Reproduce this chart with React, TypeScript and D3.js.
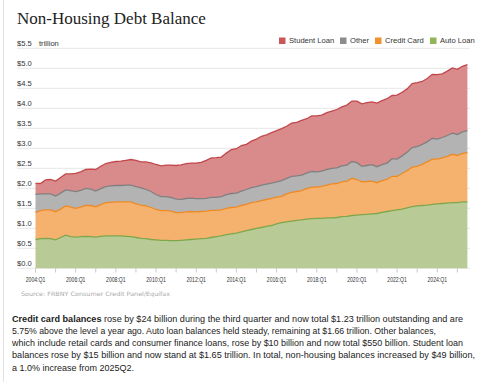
import React from "react";
import * as d3 from "d3";

const startYear = 2004;
const autoLoan = [
  0.72, 0.74, 0.75, 0.74, 0.71, 0.77, 0.83, 0.79, 0.78, 0.79, 0.80, 0.79,
  0.78, 0.80, 0.81, 0.81, 0.81, 0.81, 0.80, 0.79, 0.77, 0.75, 0.74, 0.72,
  0.71, 0.70, 0.70, 0.69, 0.69, 0.70, 0.71, 0.72, 0.73, 0.74, 0.75, 0.77,
  0.79, 0.81, 0.84, 0.86, 0.88, 0.91, 0.94, 0.97, 1.00, 1.02, 1.05, 1.07,
  1.11, 1.14, 1.16, 1.18, 1.20, 1.21, 1.23, 1.24, 1.25, 1.25, 1.26, 1.26,
  1.27, 1.29, 1.30, 1.32, 1.33, 1.34, 1.35, 1.36, 1.37, 1.40, 1.42, 1.44,
  1.46, 1.48, 1.51, 1.54, 1.56, 1.57, 1.58, 1.60, 1.61, 1.62, 1.63, 1.64,
  1.64, 1.66, 1.66,
];
const creditCard = [
  0.68, 0.70, 0.71, 0.72, 0.705, 0.71, 0.73, 0.74, 0.72, 0.74, 0.77, 0.78,
  0.76, 0.79, 0.83, 0.84, 0.85, 0.85, 0.86, 0.87, 0.84, 0.83, 0.82, 0.80,
  0.76, 0.74, 0.74, 0.74, 0.70, 0.69, 0.70, 0.70, 0.68, 0.68, 0.68, 0.68,
  0.66, 0.65, 0.66, 0.66, 0.65, 0.66, 0.66, 0.67, 0.66, 0.67, 0.67, 0.68,
  0.67, 0.66, 0.70, 0.72, 0.72, 0.73, 0.76, 0.79, 0.78, 0.80, 0.82, 0.85,
  0.85, 0.87, 0.88, 0.93, 0.89, 0.82, 0.82, 0.82, 0.77, 0.79, 0.80, 0.86,
  0.84, 0.89, 0.93, 0.99, 0.99, 1.03, 1.08, 1.13, 1.12, 1.14, 1.17, 1.21,
  1.18, 1.21, 1.23,
];
const otherDebt = [
  0.45, 0.42, 0.40, 0.40, 0.39, 0.40, 0.40, 0.41, 0.415, 0.42, 0.43, 0.41,
  0.39, 0.40, 0.40, 0.41, 0.41, 0.41, 0.42, 0.42, 0.43, 0.43, 0.41, 0.40,
  0.375, 0.35, 0.35, 0.34, 0.34, 0.335, 0.335, 0.335, 0.33, 0.32, 0.32, 0.325,
  0.325, 0.33, 0.34, 0.35, 0.35, 0.36, 0.37, 0.375, 0.38, 0.39, 0.385, 0.38,
  0.38, 0.39, 0.39, 0.40, 0.39, 0.39, 0.39, 0.39, 0.38, 0.38, 0.39, 0.39,
  0.39, 0.40, 0.40, 0.42, 0.42, 0.39, 0.40, 0.41, 0.40, 0.40, 0.41, 0.44,
  0.43, 0.44, 0.46, 0.49, 0.49, 0.50, 0.50, 0.52, 0.50, 0.51, 0.52, 0.53,
  0.525, 0.54, 0.55,
];
const studentLoan = [
  0.275, 0.26, 0.35, 0.36, 0.375, 0.39, 0.40, 0.42, 0.46, 0.46, 0.47, 0.50,
  0.54, 0.56, 0.58, 0.59, 0.60, 0.61, 0.62, 0.64, 0.66, 0.65, 0.69, 0.715,
  0.75, 0.77, 0.79, 0.81, 0.84, 0.86, 0.87, 0.875, 0.89, 0.91, 0.95, 0.985,
  0.99, 0.99, 1.04, 1.10, 1.11, 1.14, 1.13, 1.165, 1.19, 1.22, 1.23, 1.26,
  1.28, 1.30, 1.30, 1.33, 1.34, 1.37, 1.36, 1.39, 1.40, 1.40, 1.42, 1.43,
  1.46, 1.475, 1.50, 1.51, 1.54, 1.56, 1.57, 1.57, 1.59, 1.60, 1.61, 1.58,
  1.60, 1.59, 1.585, 1.60, 1.60, 1.57, 1.585, 1.60, 1.61, 1.59, 1.61, 1.63,
  1.63, 1.64, 1.65,
];
const yTicks = [0, 0.5, 1, 1.5, 2, 2.5, 3, 3.5, 4, 4.5, 5, 5.5];
const xLabelYears = [2004, 2006, 2008, 2010, 2012, 2014, 2016, 2018, 2020, 2022, 2024];
const xTickYears = d3.range(2004, 2026);

const seriesKeys = ["auto", "credit", "other", "student"];
const seriesInfo: Record<string, { name: string; fill: string; stroke: string; sw: string }> = {
  student: { name: "Student Loan", fill: "#d98b8c", stroke: "#c2474b", sw: "#c9575a" },
  other: { name: "Other", fill: "#b3b3b3", stroke: "#808080", sw: "#8c8c8c" },
  credit: { name: "Credit Card", fill: "#f5b26f", stroke: "#ee8a24", sw: "#f0912e" },
  auto: { name: "Auto Loan", fill: "#b8cb96", stroke: "#7ea64a", sw: "#92b55b" },
};
const legendOrder = ["student", "other", "credit", "auto"];
const legendX = [279, 340, 375, 430];

const paragraph = [
  ["Credit card balances", " rose by $24 billion during the third quarter and now total $1.23 trillion outstanding and are"],
  ["", "5.75% above the level a year ago. Auto loan balances held steady, remaining at $1.66 trillion. Other balances,"],
  ["", "which include retail cards and consumer finance loans, rose by $10 billion and now total $550 billion. Student loan"],
  ["", "balances rose by $15 billion and now stand at $1.65 trillion. In total, non-housing balances increased by $49 billion,"],
  ["", "a 1.0% increase from 2025Q2."],
];
const paragraphWidths = [451, 424, 451, 463, 0];

export default function App() {
  const data = autoLoan.map((_, i) => ({
    i,
    auto: autoLoan[i],
    credit: creditCard[i],
    other: otherDebt[i],
    student: studentLoan[i],
  }));
  const x = d3.scaleLinear().domain([0, data.length - 1]).range([35.5, 467.4]);
  const y = d3.scaleLinear().domain([0, 5.5]).range([268.3, 48.3]);
  const stack = d3.stack<any>().keys(seriesKeys)(data);
  const area = d3
    .area<any>()
    .x((d: any) => x(d.data.i))
    .y0((d: any) => y(d[0]))
    .y1((d: any) => y(d[1]));
  const line = d3
    .line<any>()
    .x((d: any) => x(d.data.i))
    .y((d: any) => y(d[1]));
  const sans = "'Liberation Sans', Arial, sans-serif";
  return (
    <svg
      width={480}
      height={382}
      style={{ position: "absolute", left: 0, top: 0, background: "#fff" }}
    >
      <line x1={3.5} x2={3.5} y1={0} y2={382} stroke="#e2e2e2" />
      <text x={17} y={24} fontFamily="'Liberation Serif', Georgia, serif" fontSize={17} fill="#222">
        Non-Housing Debt Balance
      </text>
      {yTicks.map((t) => (
        <line key={"g" + t} x1={17} x2={470} y1={y(t)} y2={y(t)} stroke="#e6e6e6" />
      ))}
      {stack.map((s: any) => (
        <path key={s.key} d={area(s) || ""} fill={seriesInfo[s.key].fill} />
      ))}
      {stack.map((s: any) => (
        <path key={"l" + s.key} d={line(s) || ""} fill="none" stroke={seriesInfo[s.key].stroke} strokeWidth={1.3} />
      ))}
      {yTicks.map((t) => (
        <text key={"t" + t} x={17} y={y(t) - 2.3} fontFamily={sans} fontSize={7.6} fill="#333">
          {"$" + t.toFixed(1)}
        </text>
      ))}
      <text x={39} y={y(5.5) - 2.3} fontFamily={sans} fontSize={7.6} fill="#333">trillion</text>
      {xTickYears.map((yr) => (
        <line key={"xt" + yr} x1={x((yr - startYear) * 4)} x2={x((yr - startYear) * 4)} y1={268.3} y2={272.5} stroke="#c8c8c8" />
      ))}
      {xLabelYears.map((yr) => (
        <text
          key={"xl" + yr}
          x={x((yr - startYear) * 4) - 9.75}
          y={281.5}
          fontFamily={sans}
          fontSize={7}
          textLength={19.5}
          lengthAdjust="spacingAndGlyphs"
          fill="#333"
        >
          {yr + ":Q1"}
        </text>
      ))}
      {legendOrder.map((k, j) => (
        <g key={"lg" + k}>
          <rect x={legendX[j]} y={37.5} width={6.5} height={6.5} fill={seriesInfo[k].sw} />
          <text x={legendX[j] + 10} y={43.3} fontFamily={sans} fontSize={7.6} fill="#333">
            {seriesInfo[k].name}
          </text>
        </g>
      ))}
      <text
        x={21}
        y={295.5}
        fontFamily="'DejaVu Sans', Verdana, sans-serif"
        fontSize={6}
        textLength={149}
        lengthAdjust="spacingAndGlyphs"
        fill="#aaa"
      >
        Source: FRBNY Consumer Credit Panel/Equifax
      </text>
      {paragraph.map((p, k) => (
        <text
          key={"p" + k}
          x={12}
          y={321.5 + k * 12.3}
          fontFamily={sans}
          fontSize={9.0}
          fill="#222"
          {...(paragraphWidths[k] ? { textLength: paragraphWidths[k], lengthAdjust: "spacingAndGlyphs" } : {})}
        >
          {p[0] ? <tspan fontWeight="bold">{p[0]}</tspan> : null}
          {p[1]}
        </text>
      ))}
    </svg>
  );
}
